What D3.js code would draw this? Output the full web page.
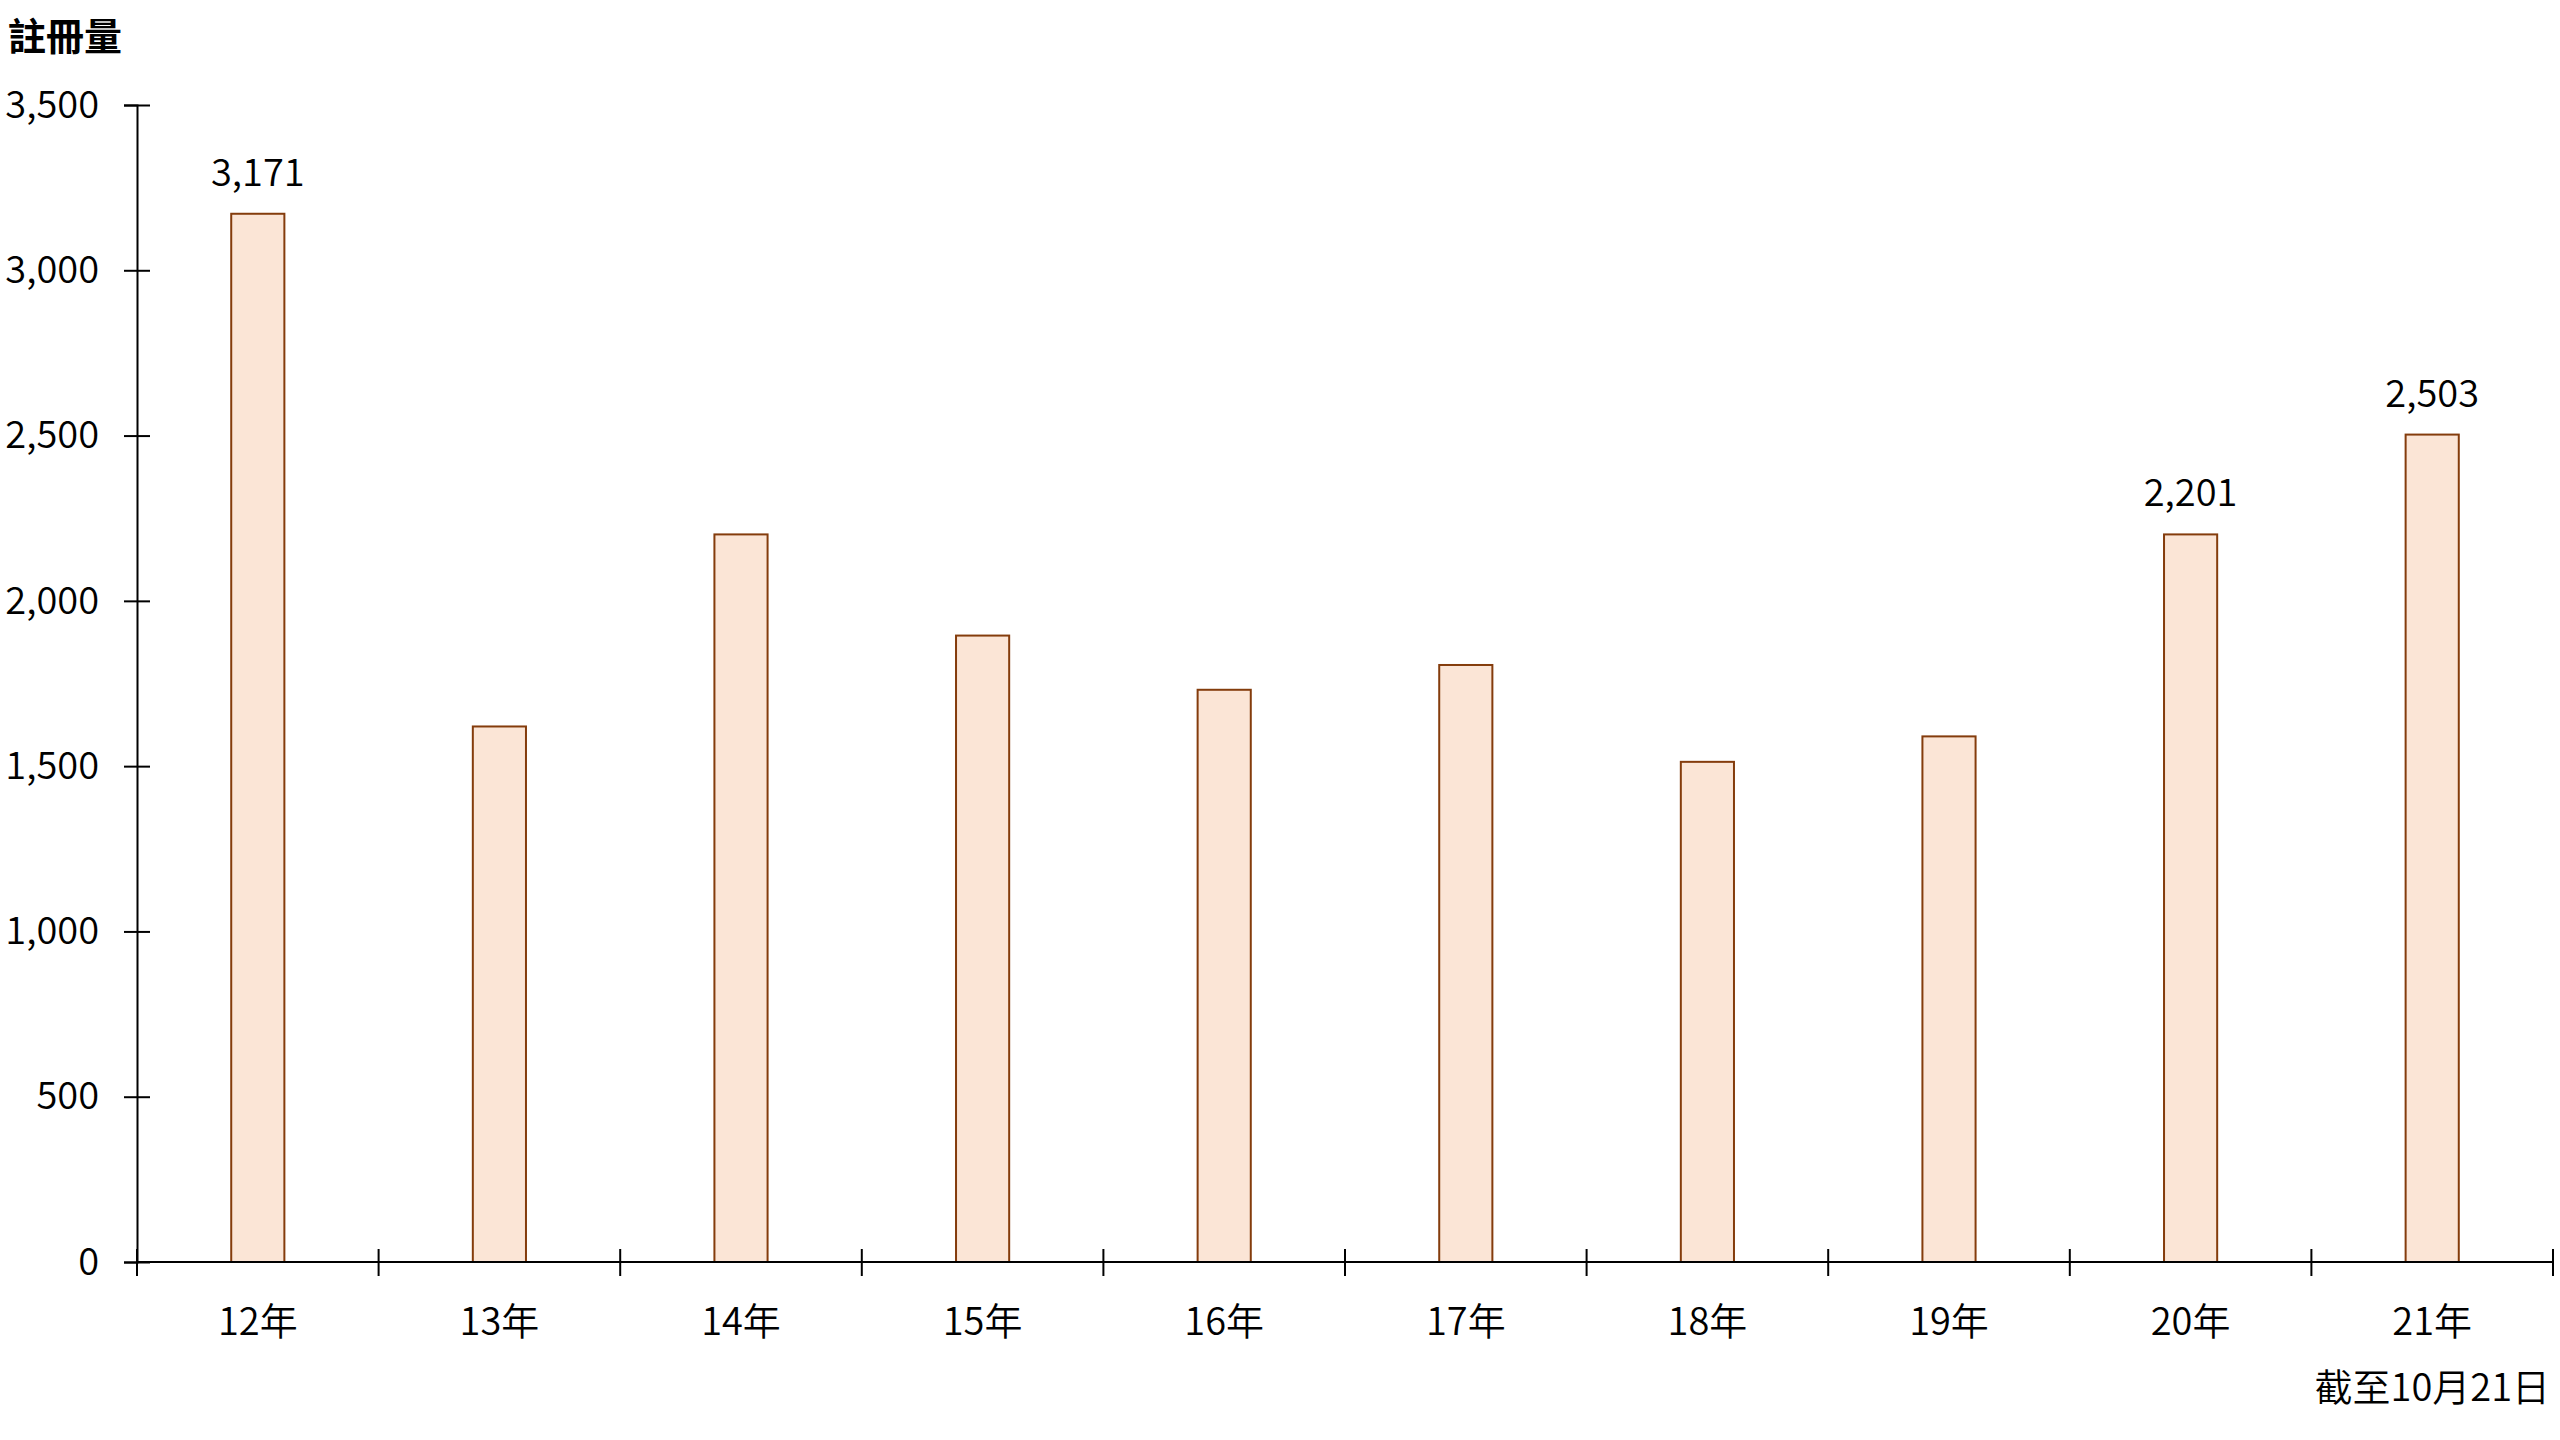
<!DOCTYPE html>
<html>
<head>
<meta charset="utf-8">
<script src="https://cdn.jsdelivr.net/npm/d3@7"></script>
<style>
	body { margin: 0; background: #fff; }
	text { font-family: "Noto Sans CJK TC", "Noto Sans", sans-serif; fill: #000; }
</style>
</head>
<body>
<div id="chart"></div>
<script>
// Data

var years = ['12年', '13年', '14年', '15年', '16年', '17年', '18年', '19年', '20年', '21年'];
var registrations = [3171, 1620, 2201, 1895, 1731, 1806, 1513, 1590, 2201, 2503];
var labelledYears = ['12年', '20年', '21年'];
var yTicks = [0, 500, 1000, 1500, 2000, 2500, 3000, 3500];

// Config

var width = 2560, height = 1440;
var margin = { left: 137, right: 7, top: 105, bottom: 178 };
var barFill = '#fbe5d6', barStroke = '#843c0c';
var fontSize = 38;

var svg = d3.select('#chart').append('svg')
	.attr('width', width)
	.attr('height', height);

var x = d3.scaleBand()
	.domain(years)
	.range([margin.left, width - margin.right])
	.paddingInner(0.78)
	.paddingOuter(0.39);

var y = d3.scaleLinear()
	.domain([0, 3500])
	.range([height - margin.bottom, margin.top]);

// Bars
svg.append('g').selectAll('rect')
	.data(years)
	.enter().append('rect')
		.attr('x', d => x(d))
		.attr('width', x.bandwidth())
		.attr('y', (d, i) => y(registrations[i]))
		.attr('height', (d, i) => y(0) - y(registrations[i]))
		.attr('fill', barFill)
		.attr('stroke', barStroke)
		.attr('stroke-width', 2);

// Value labels on a few bars
svg.append('g').selectAll('text')
	.data(years.filter(d => labelledYears.includes(d)))
	.enter().append('text')
		.attr('x', d => x(d) + x.bandwidth() / 2)
		.attr('y', d => y(registrations[years.indexOf(d)]) - 28)
		.attr('text-anchor', 'middle')
		.style('font-size', fontSize + 'px')
		.style('font-weight', 350)
		.text(d => d3.format(',')(registrations[years.indexOf(d)]));

// Y axis
var yAxis = svg.append('g')
	.attr('transform', `translate(${margin.left},0)`)
	.call(d3.axisLeft(y).tickValues(yTicks).tickFormat(d3.format(',')).tickSizeOuter(0).tickSize(13).tickPadding(26));
yAxis.selectAll('.tick line').attr('x2', 13).attr('x1', -13);
yAxis.selectAll('.tick text').style('font-size', fontSize + 'px').style('font-weight', 350).attr('x', -38);
yAxis.selectAll('path, line').attr('stroke', '#000').attr('stroke-width', 2);

// X axis: ticks sit on the band edges
var step = x.step();
var edges = d3.range(years.length + 1).map(i => margin.left + i * step);
var xAxisG = svg.append('g');
xAxisG.append('line')
	.attr('x1', margin.left).attr('x2', width - margin.right)
	.attr('y1', y(0)).attr('y2', y(0))
	.attr('stroke', '#000').attr('stroke-width', 2);
xAxisG.selectAll('.edge')
	.data(edges)
	.enter().append('line')
		.attr('class', 'edge')
		.attr('x1', d => d).attr('x2', d => d)
		.attr('y1', y(0) - 13).attr('y2', y(0) + 14)
		.attr('stroke', '#000').attr('stroke-width', 2);
xAxisG.selectAll('.xlab')
	.data(years)
	.enter().append('text')
		.attr('class', 'xlab')
		.attr('x', d => x(d) + x.bandwidth() / 2)
		.attr('y', y(0) + 73)
		.attr('text-anchor', 'middle')
		.style('font-size', fontSize + 'px')
		.style('font-weight', 350)
		.text(d => d);

// Titles
svg.append('text')
	.attr('x', 8).attr('y', 50)
	.style('font-size', fontSize + 'px')
	.style('font-weight', 'bold')
	.text('註冊量');

svg.append('text')
	.attr('x', width - 10).attr('y', 1401)
	.attr('text-anchor', 'end')
	.style('font-size', fontSize + 'px')
	.style('font-weight', 350)
	.text('截至10月21日');
</script>
</body>
</html>
